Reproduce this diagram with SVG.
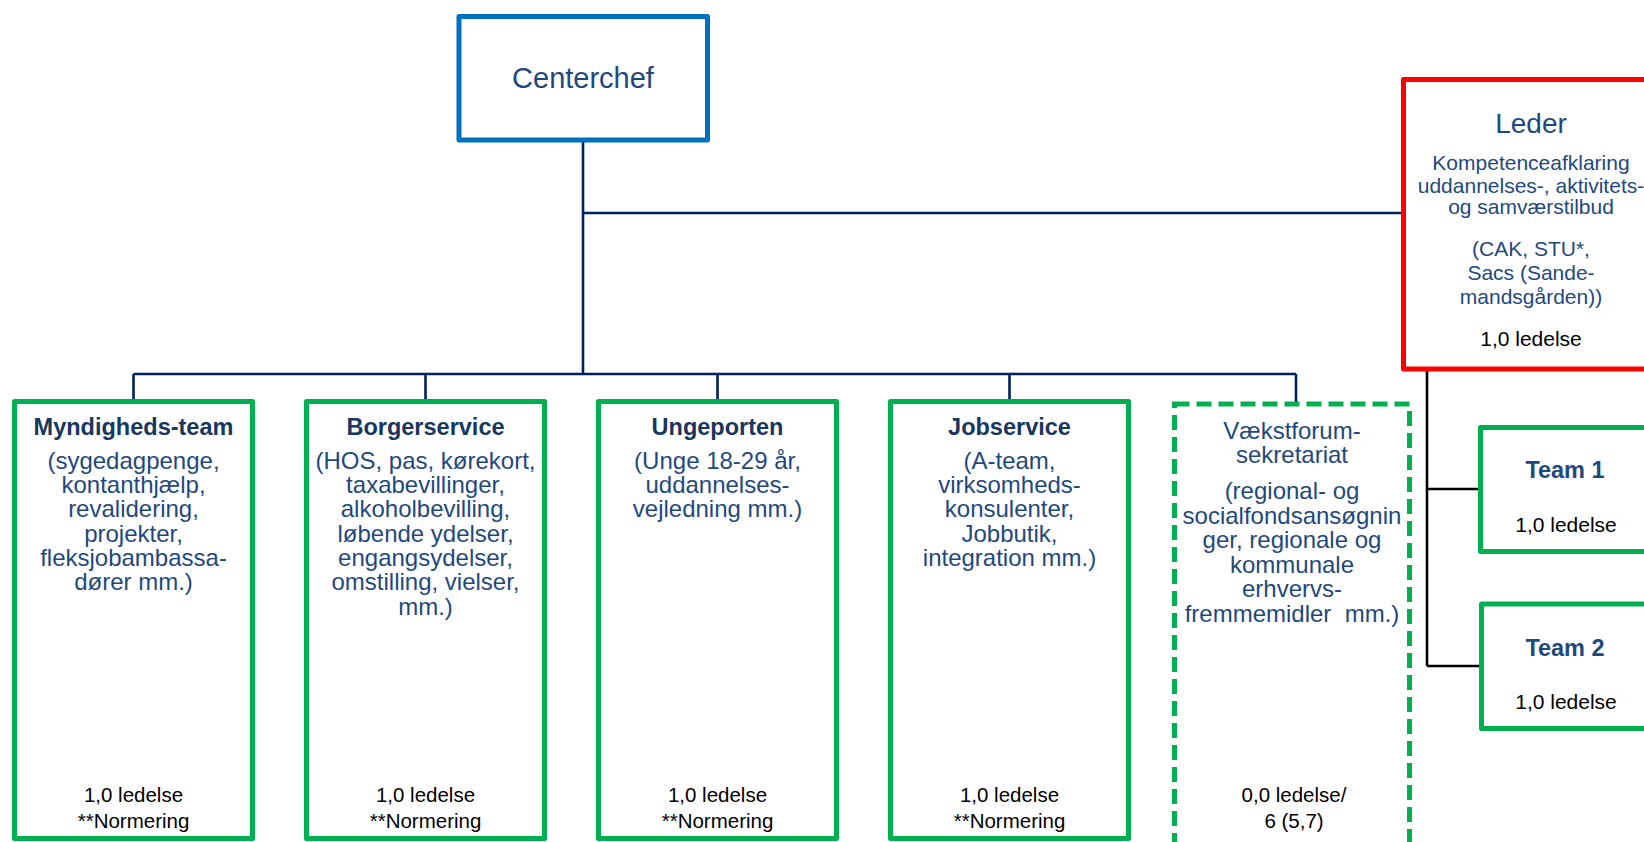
<svg xmlns="http://www.w3.org/2000/svg" width="1644" height="842" viewBox="0 0 1644 842">
<style>
text{font-family:"Liberation Sans",Arial,sans-serif;text-anchor:middle}
.big{font-size:29px;fill:#1F497D}
.ttl{font-size:23.5px;font-weight:bold;fill:#17375E}
.tm{font-size:23.5px;font-weight:bold;fill:#1F497D}
.b{font-size:24px;fill:#1F497D}
.s{font-size:21px;fill:#1F497D}
.k{font-size:20.5px;fill:#000}
.k2{font-size:21px;fill:#000}
.g{fill:#fff;stroke:#00B050;stroke-width:5;stroke-linejoin:round}
.gd{fill:#fff;stroke:#00B050;stroke-width:5;stroke-dasharray:15 7}
.nv{stroke:#002060;stroke-width:2.6;fill:none}
.bk{stroke:#000;stroke-width:2.6;fill:none}
</style>
<rect width="1644" height="842" fill="#fff"/>
<g id="connectors">
<path class="nv" d="M583 140V374M583 213H1403M133.5 374H1296M133.5 374V401M425.5 374V401M717.5 374V401M1009.5 374V401M1296 374V404"/>
<path class="bk" d="M1427 369V666M1427 489H1481M1427 666H1482"/>
</g>
<g id="centerchef">
<rect x="459" y="16.5" width="248.5" height="123.5" fill="#fff" stroke="#0070C0" stroke-width="5" stroke-linejoin="round"/>
<text class="big" x="583" y="88">Centerchef</text>
</g>
<g id="leder">
<rect x="1403.5" y="79.5" width="260" height="289.5" fill="#fff" stroke="#FF0000" stroke-width="5" stroke-linejoin="round"/>
<text class="big" style="font-size:28px" x="1531" y="133">Leder</text>
<text class="s" x="1531" y="170">Kompetenceafklaring</text>
<text class="s" x="1531" y="193">uddannelses-, aktivitets-</text>
<text class="s" x="1531" y="214">og samværstilbud</text>
<text class="s" x="1531" y="256">(CAK, STU*,</text>
<text class="s" x="1531" y="280">Sacs (Sande-</text>
<text class="s" x="1531" y="304">mandsgården))</text>
<text class="k2" x="1531" y="346">1,0 ledelse</text>
</g>
<g id="team1">
<rect class="g" x="1480.5" y="427.5" width="190" height="124"/>
<text class="tm" x="1565" y="478">Team 1</text>
<text class="k2" x="1566" y="532">1,0 ledelse</text>
</g>
<g id="team2">
<rect class="g" x="1481.5" y="604" width="190" height="124.5"/>
<text class="tm" x="1565" y="656">Team 2</text>
<text class="k2" x="1566" y="709">1,0 ledelse</text>
</g>
<g id="myndighed">
<rect class="g" x="14.5" y="401.5" width="238" height="437"/>
<text class="ttl" x="133.5" y="435">Myndigheds-team</text>
<text class="b" x="133.5" y="469">(sygedagpenge,</text>
<text class="b" x="133.5" y="493">kontanthjælp,</text>
<text class="b" x="133.5" y="517">revalidering,</text>
<text class="b" x="133.5" y="542">projekter,</text>
<text class="b" x="133.5" y="566">fleksjobambassa-</text>
<text class="b" x="133.5" y="590">dører mm.)</text>
<text class="k" x="133.5" y="802">1,0 ledelse</text>
<text class="k" x="133.5" y="828">**Normering</text>
</g>
<g id="borgerservice">
<rect class="g" x="306.5" y="401.5" width="238" height="437"/>
<text class="ttl" x="425.5" y="435">Borgerservice</text>
<text class="b" x="425.5" y="469">(HOS, pas, kørekort,</text>
<text class="b" x="425.5" y="493">taxabevillinger,</text>
<text class="b" x="425.5" y="517">alkoholbevilling,</text>
<text class="b" x="425.5" y="542">løbende ydelser,</text>
<text class="b" x="425.5" y="566">engangsydelser,</text>
<text class="b" x="425.5" y="590">omstilling, vielser,</text>
<text class="b" x="425.5" y="615">mm.)</text>
<text class="k" x="425.5" y="802">1,0 ledelse</text>
<text class="k" x="425.5" y="828">**Normering</text>
</g>
<g id="ungeporten">
<rect class="g" x="598.5" y="401.5" width="238" height="437"/>
<text class="ttl" x="717.5" y="435">Ungeporten</text>
<text class="b" x="717.5" y="469">(Unge 18-29 år,</text>
<text class="b" x="717.5" y="493">uddannelses-</text>
<text class="b" x="717.5" y="517">vejledning mm.)</text>
<text class="k" x="717.5" y="802">1,0 ledelse</text>
<text class="k" x="717.5" y="828">**Normering</text>
</g>
<g id="jobservice">
<rect class="g" x="890.5" y="401.5" width="238" height="437"/>
<text class="ttl" x="1009.5" y="435">Jobservice</text>
<text class="b" x="1009.5" y="469">(A-team,</text>
<text class="b" x="1009.5" y="493">virksomheds-</text>
<text class="b" x="1009.5" y="517">konsulenter,</text>
<text class="b" x="1009.5" y="542">Jobbutik,</text>
<text class="b" x="1009.5" y="566">integration mm.)</text>
<text class="k" x="1009.5" y="802">1,0 ledelse</text>
<text class="k" x="1009.5" y="828">**Normering</text>
</g>
<g id="vaekstforum">
<rect class="gd" x="1174.5" y="404" width="235" height="460"/>
<text class="b" x="1292" y="439">Vækstforum-</text>
<text class="b" x="1292" y="463">sekretariat</text>
<text class="b" x="1292" y="499">(regional- og</text>
<text class="b" x="1292" y="524">socialfondsansøgnin</text>
<text class="b" x="1292" y="548">ger, regionale og</text>
<text class="b" x="1292" y="573">kommunale</text>
<text class="b" x="1292" y="597">erhvervs-</text>
<text class="b" x="1292" y="622" xml:space="preserve">fremmemidler  mm.)</text>
<text class="k" x="1294" y="802">0,0 ledelse/</text>
<text class="k" x="1294" y="828">6 (5,7)</text>
</g>
</svg>
